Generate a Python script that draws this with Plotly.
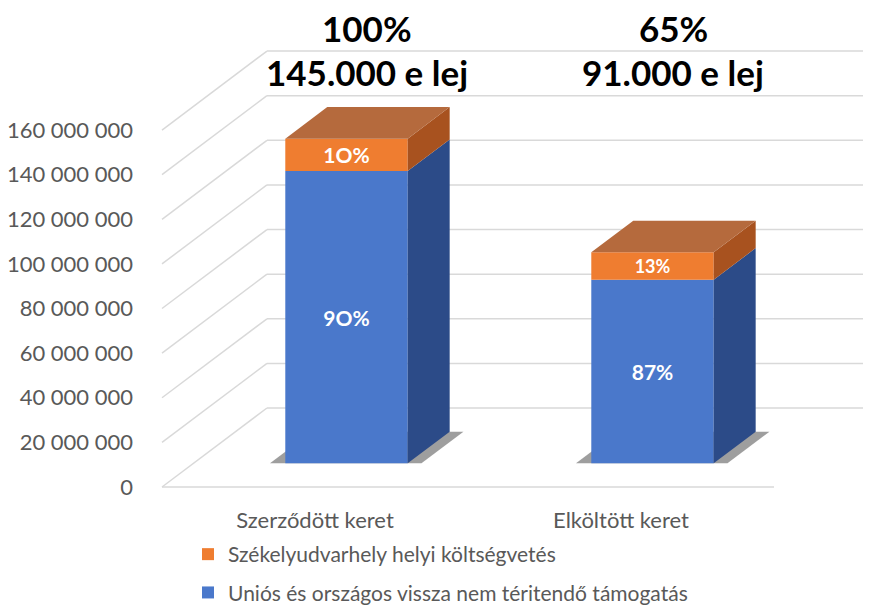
import plotly.graph_objects as go

categories = ["Szerződött keret", "Elköltött keret"]
eu_name = "Uniós és országos vissza nem téritendő támogatás"
local_name = "Székelyudvarhely helyi költségvetés"
eu_values = [131_000_000, 82_300_000]
local_values = [14_500_000, 12_300_000]
eu_labels = ["9O%", "87%"]
local_labels = ["1O%", "13%"]
share_labels = ["100%", "65%"]
amount_labels = ["145.000 e lej", "91.000 e lej"]
y_ticks = [0, 20_000_000, 40_000_000, 60_000_000, 80_000_000,
           100_000_000, 120_000_000, 140_000_000, 160_000_000]

# page body adds an 8px margin, so the figure is laid out in screen pixels minus that
OFF = 8
W, H = 871 - OFF, 610 - OFF

# fake 3D: oblique projection of the depth axis
DX = 0.343          # depth shift in category units
DY = 35.4e6         # depth shift in value units
D_FRONT, D_BACK = 0.30, 0.70
BAR_W = 0.4
X_RANGE = [-0.0719, 2.317]
Y_RANGE = [-55.13e6, 214.7e6]


def py(screen_y):
    return (610 - screen_y) / H


BLUE, BLUE_SIDE = "#4A78CB", "#2C4B88"
ORANGE, ORANGE_SIDE, ORANGE_TOP = "#EF7D30", "#A8521F", "#B56A3D"
GRID = "#D9D9D9"
TXT = "#595959"

cx = [i + 0.5 for i in range(len(categories))]
x_front = [c + D_FRONT * DX for c in cx]
base0 = D_FRONT * DY
ddx = (D_BACK - D_FRONT) * DX
ddy = (D_BACK - D_FRONT) * DY

fig = go.Figure()

# gridlines on the side wall / back wall, and the floor front edge
shapes = []
for v in y_ticks:
    shapes.append(dict(type="line", xref="x", yref="y", x0=0, y0=v, x1=DX, y1=v + DY,
                       line=dict(color=GRID, width=1.5), layer="below"))
    shapes.append(dict(type="line", xref="x", yref="y", x0=DX, y0=v + DY, x1=len(cx) + DX, y1=v + DY,
                       line=dict(color=GRID, width=1.5), layer="below"))
shapes.append(dict(type="line", xref="x", yref="y", x0=0, y0=0, x1=len(cx), y1=0,
                   line=dict(color=GRID, width=1.5), layer="below"))

# soft shadows under the bars
for c in cx:
    xl = c - BAR_W / 2 + D_FRONT * DX - 0.05
    xr = c + BAR_W / 2 + D_FRONT * DX + 0.045
    path = (f"M {xl},{base0} L {xr},{base0} L {xr + ddx},{base0 + ddy} "
            f"L {xl + ddx},{base0 + ddy} Z")
    shapes.append(dict(type="path", xref="x", yref="y", path=path, layer="below",
                       fillcolor="rgba(40,40,40,0.45)", line=dict(width=0)))

fig.add_trace(go.Bar(
    x=x_front, y=eu_values, base=[base0] * len(cx), width=BAR_W,
    name=eu_name, marker=dict(color=BLUE, line=dict(width=0)),
    text=eu_labels, textposition="inside", insidetextanchor="middle",
    textfont=dict(family="Lato", size=21, color="white", weight="bold"),
    legendrank=2, legendgroup="eu",
))
fig.add_trace(go.Bar(
    x=x_front, y=local_values, base=[base0 + e for e in eu_values], width=BAR_W,
    name=local_name, marker=dict(color=ORANGE, line=dict(width=0)),
    text=local_labels, textposition="inside", insidetextanchor="middle",
    textfont=dict(family="Lato", size=21, color="white", weight="bold"),
    legendrank=1, legendgroup="local",
))


def side_poly(bottoms, tops):
    xs, ys = [], []
    for c, b, t in zip(cx, bottoms, tops):
        xr = c + BAR_W / 2 + D_FRONT * DX
        xs += [xr, xr, xr + ddx, xr + ddx, xr, None]
        ys += [b + base0, t + base0, t + base0 + ddy, b + base0 + ddy, b + base0, None]
    return xs, ys


def top_poly(tops):
    xs, ys = [], []
    for c, t in zip(cx, tops):
        xl = c - BAR_W / 2 + D_FRONT * DX
        xr = xl + BAR_W
        xs += [xl, xr, xr + ddx, xl + ddx, xl, None]
        ys += [t + base0, t + base0, t + base0 + ddy, t + base0 + ddy, t + base0, None]
    return xs, ys


totals = [e + l for e, l in zip(eu_values, local_values)]
for (xs, ys), col in [
    (side_poly([0] * len(cx), eu_values), BLUE_SIDE),
    (side_poly(eu_values, totals), ORANGE_SIDE),
    (top_poly(totals), ORANGE_TOP),
]:
    fig.add_trace(go.Scatter(x=xs, y=ys, fill="toself", fillcolor=col, mode="lines",
                             line=dict(width=0, color=col), showlegend=False, hoverinfo="skip"))

for c, share, amount in zip(cx, share_labels, amount_labels):
    xc = c + (D_FRONT + D_BACK) / 2 * DX
    for txt, ypx in [(share, 28), (amount, 72)]:
        fig.add_annotation(x=xc, xref="x", y=py(ypx), yref="paper",
                           text=txt, showarrow=False, yanchor="middle",
                           font=dict(family="Lato", size=35, color="black", weight="bold"))

fig.update_layout(
    width=W, height=H,
    margin=dict(l=140 - OFF, r=0, t=0, b=0, autoexpand=False),
    paper_bgcolor="white", plot_bgcolor="white",
    barmode="overlay",
    separators=". ",
    font=dict(family="Lato", color=TXT),
    xaxis=dict(range=X_RANGE, showgrid=False, zeroline=False, showline=False,
               tickvals=cx, ticktext=categories, ticks="", anchor="free",
               position=py(487), ticklabelstandoff=18,
               tickfont=dict(size=22, color=TXT)),
    yaxis=dict(range=Y_RANGE, showgrid=False, zeroline=False, showline=False,
               tickvals=y_ticks, tickformat=",d", ticks="", ticklabelstandoff=6,
               tickfont=dict(size=22, color=TXT)),
    legend=dict(x=(188 - 140) / 731, xanchor="left", y=py(534), yanchor="top",
                traceorder="grouped", tracegroupgap=8, itemwidth=30, bgcolor="rgba(0,0,0,0)",
                font=dict(size=21, color=TXT)),
    shapes=shapes,
    showlegend=True,
)

fig.write_html("out.html")
